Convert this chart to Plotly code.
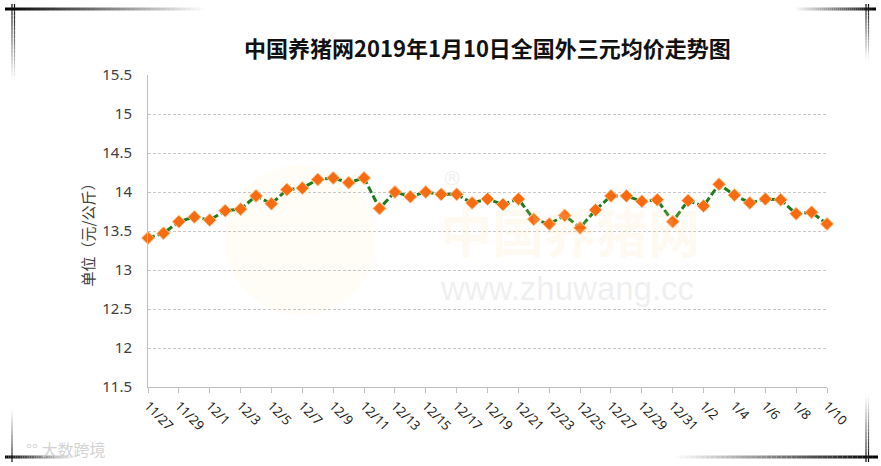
import plotly.graph_objects as go

# ---------------- data ----------------
dates = ["11/27", "11/28", "11/29", "11/30",
         "12/1", "12/2", "12/3", "12/4", "12/5", "12/6", "12/7", "12/8", "12/9", "12/10",
         "12/11", "12/12", "12/13", "12/14", "12/15", "12/16", "12/17", "12/18", "12/19", "12/20",
         "12/21", "12/22", "12/23", "12/24", "12/25", "12/26", "12/27", "12/28", "12/29", "12/30",
         "12/31", "1/1", "1/2", "1/3", "1/4", "1/5", "1/6", "1/7", "1/8", "1/9", "1/10"]
prices = [13.41, 13.47, 13.62, 13.68, 13.64, 13.76, 13.78, 13.95, 13.85, 14.03,
          14.05, 14.16, 14.18, 14.12, 14.18, 13.79, 14.00, 13.94, 14.00, 13.97,
          13.97, 13.86, 13.91, 13.84, 13.91, 13.65, 13.59, 13.70, 13.54, 13.77,
          13.95, 13.95, 13.88, 13.90, 13.62, 13.89, 13.82, 14.10, 13.96, 13.86,
          13.91, 13.90, 13.72, 13.74, 13.59]
label_dates = dates[::2]
y_ticks = [11.5, 12, 12.5, 13, 13.5, 14, 14.5, 15, 15.5]
y_ticktext = ["11.5", "12", "12.5", "13", "13.5", "14", "14.5", "15", "15.5"]
title = "中国养猪网2019年1月10日全国外三元均价走势图"
y_title = "单位（元/公斤）"

# ---------------- layout geometry ----------------
W, H = 881, 466
L, R, T, B = 148, 827, 75, 387


def px(x):
    return (x - L) / (R - L)


def py(y):
    return (B - y) / (B - T)


fig = go.Figure()
fig.add_trace(go.Scatter(
    x=dates, y=prices, mode="lines+markers",
    line=dict(color="#1f7d1f", width=3, dash="7px,3px"),
    marker=dict(symbol="diamond", size=10, color="#F96B10",
                line=dict(color="#FFC38A", width=1)),
    hoverinfo="x+y", showlegend=False, cliponaxis=False,
))

shapes = []


def grad_line(x0, y0, x1, y1, width, c0, c1, n=40):
    # decorative gradient line from colour c0 to c1 (grey levels 0..255)
    for i in range(n):
        a, b = i / n, (i + 1) / n
        g = int(c0 + (c1 - c0) * (a + b) / 2)
        shapes.append(dict(type="line", xref="paper", yref="paper",
                           x0=px(x0 + (x1 - x0) * a), y0=py(y0 + (y1 - y0) * a),
                           x1=px(x0 + (x1 - x0) * b), y1=py(y0 + (y1 - y0) * b),
                           line=dict(color=f"rgb({g},{g},{g})", width=width)))


# frame decorations
grad_line(5, 9, 205, 9, 3, 0, 255)
grad_line(12, 4, 12, 80, 1.2, 0, 255, 20)
grad_line(14.5, 4, 14.5, 80, 1.2, 0, 255, 20)
grad_line(795, 9, 876, 9, 3, 255, 0)
grad_line(866, 4, 866, 60, 1.2, 0, 255, 20)
grad_line(868.5, 4, 868.5, 60, 1.2, 0, 255, 20)
grad_line(5, 457, 75, 457, 3, 0, 255)
grad_line(12, 410, 12, 462, 1.2, 255, 0, 20)
grad_line(675, 457, 878, 457, 3, 255, 0)
grad_line(866, 395, 866, 462, 1.2, 255, 0, 20)
grad_line(868.5, 395, 868.5, 462, 1.2, 255, 0, 20)

# faint watermark logo circle
shapes.append(dict(type="circle", xref="paper", yref="paper",
                   x0=px(225), x1=px(375), y0=py(165), y1=py(315),
                   fillcolor="rgba(255,238,190,0.14)", line=dict(width=0), layer="below"))

annotations = [
    dict(text="<b>中国养猪网</b>", xref="paper", yref="paper", x=px(570), y=py(230),
         showarrow=False, font=dict(size=52, color="rgba(250,225,175,0.16)",
                                    family="Noto Sans CJK SC"), xanchor="center", yanchor="middle"),
    dict(text="www.zhuwang.cc", xref="paper", yref="paper", x=px(567), y=py(288),
         showarrow=False, font=dict(size=33, color="rgba(200,200,200,0.28)",
                                    family="Liberation Sans"), xanchor="center", yanchor="middle"),
    dict(text="®", xref="paper", yref="paper", x=px(452), y=py(178),
         showarrow=False, font=dict(size=20, color="rgba(200,200,200,0.3)",
                                    family="DejaVu Sans"), xanchor="center", yanchor="middle"),
    dict(text="°° 大数跨境", xref="paper", yref="paper", x=px(65), y=py(449),
         showarrow=False, font=dict(size=16, color="rgba(205,205,205,0.9)",
                                    family="Noto Sans CJK SC"), xanchor="center", yanchor="middle"),
    dict(text="<b>" + title + "</b>", xref="paper", yref="paper", x=0.5, y=py(47),
         showarrow=False, font=dict(size=22, color="#111111", family="Noto Sans CJK SC"),
         xanchor="center", yanchor="middle"),
]

fig.update_layout(
    width=W, height=H,
    margin=dict(l=L, r=W - R, t=T, b=H - B, autoexpand=False),
    paper_bgcolor="white", plot_bgcolor="white",
    shapes=shapes, annotations=annotations,
    xaxis=dict(
        type="category", range=[0, len(dates) - 1], automargin=False,
        tickmode="array", tickvals=label_dates, ticktext=label_dates,
        tickangle=45, tickfont=dict(size=13, color="#222222", family="Noto Sans"),
        ticks="outside", ticklen=5, tickcolor="#BFBFBF",
        showline=True, linecolor="#BFBFBF", linewidth=1,
        showgrid=False, zeroline=False, fixedrange=True,
    ),
    yaxis=dict(
        range=[11.5, 15.5], tickmode="array", tickvals=y_ticks, ticktext=y_ticktext,
        automargin=False,
        tickfont=dict(size=15, color="#404040", family="Noto Sans"),
        ticklabelstandoff=12,
        showline=True, linecolor="#BFBFBF", linewidth=1,
        showgrid=True, gridcolor="#C8C8C8", gridwidth=1, griddash="3px,2px",
        zeroline=False, fixedrange=True,
        title=dict(text=y_title, font=dict(size=15, color="#404040", family="Noto Sans CJK SC"),
                   standoff=3),
    ),
)

fig.write_html("out.html", config={"displayModeBar": False},
               post_script="document.body.style.margin='0';document.body.style.overflow='hidden';")
